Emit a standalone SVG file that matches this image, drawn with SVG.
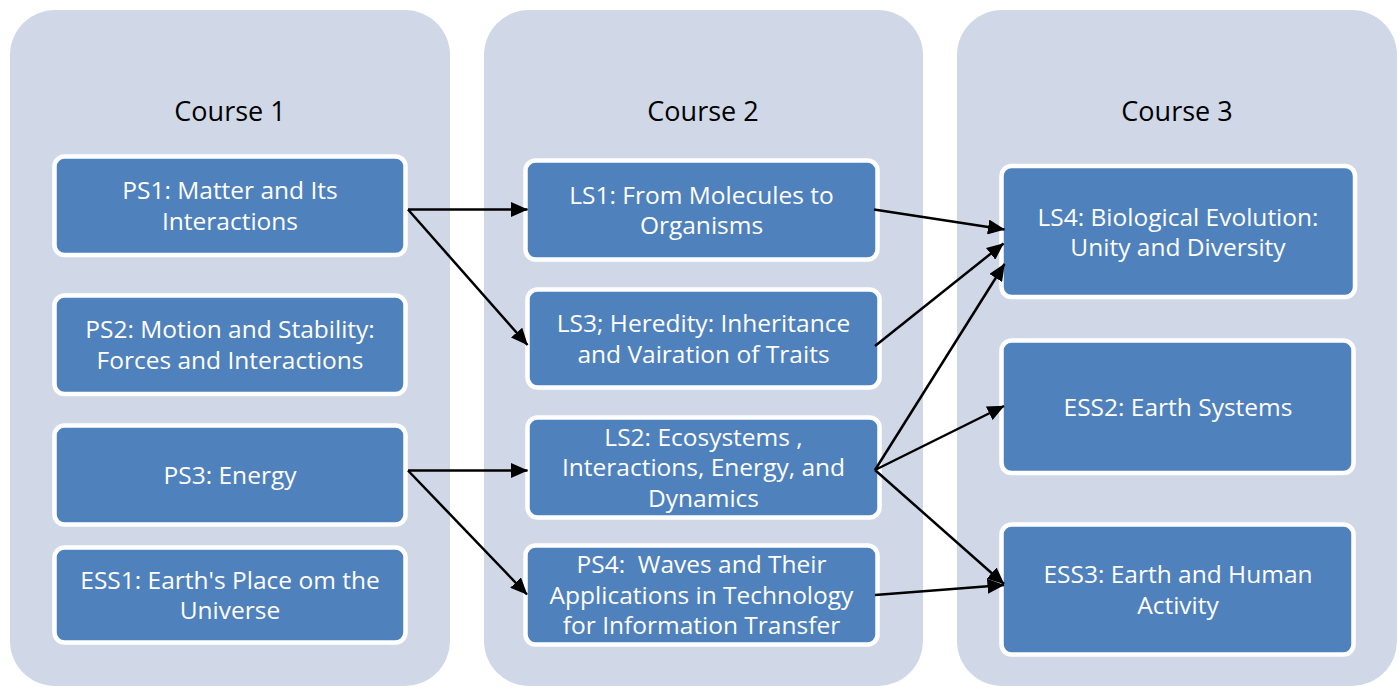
<svg xmlns="http://www.w3.org/2000/svg" width="1399" height="687" viewBox="0 0 1399 687">
<defs>
<style>
.panel{fill:#D0D8E8;}
.node{fill:#4F81BD;stroke:#FFFFFF;stroke-width:4.5;}
.title{font-family:"Open Sans","Liberation Sans",sans-serif;font-size:27px;fill:#000000;text-anchor:middle;}
.lbl{font-family:"Open Sans","Liberation Sans",sans-serif;font-size:24.5px;fill:#FFFFFF;text-anchor:middle;white-space:pre;}
.conn{stroke:#000000;stroke-width:2.5;fill:none;marker-end:url(#arr);}
</style>
<marker id="arr" markerUnits="userSpaceOnUse" markerWidth="17" markerHeight="15" viewBox="0 0 17 15" refX="16.5" refY="7.5" orient="auto">
<path d="M0,0 L17,7.5 L0,15 Z" fill="#000000"/>
</marker>
</defs>
<rect width="1399" height="687" fill="#FFFFFF"/>
<g id="course1">
<rect class="panel" x="10" y="10" width="440" height="676" rx="45"/>
<text class="title" x="230" y="121">Course 1</text>
</g>
<g id="course2">
<rect class="panel" x="484" y="10" width="439" height="676" rx="45"/>
<text class="title" x="703" y="121">Course 2</text>
</g>
<g id="course3">
<rect class="panel" x="957" y="10" width="440" height="676" rx="45"/>
<text class="title" x="1177" y="121">Course 3</text>
</g>
<g id="ps1">
<rect class="node" x="54.5" y="156.5" width="351" height="98.5" rx="10"/>
<text class="lbl" x="230" y="199.2">PS1: Matter and Its</text>
<text class="lbl" x="230" y="229.7">Interactions</text>
</g>
<g id="ps2">
<rect class="node" x="54.5" y="295.5" width="351" height="98.5" rx="10"/>
<text class="lbl" x="230" y="338.2">PS2: Motion and Stability:</text>
<text class="lbl" x="230" y="368.7">Forces and Interactions</text>
</g>
<g id="ps3">
<rect class="node" x="54.5" y="425.5" width="351" height="99" rx="10"/>
<text class="lbl" x="230" y="483.7">PS3: Energy</text>
</g>
<g id="ess1">
<rect class="node" x="54.5" y="547.5" width="351" height="95" rx="10"/>
<text class="lbl" x="230" y="588.5">ESS1: Earth's Place om the</text>
<text class="lbl" x="230" y="619">Universe</text>
</g>
<g id="ls1">
<rect class="node" x="525.5" y="160.5" width="352" height="99" rx="10"/>
<text class="lbl" x="701.5" y="203.5">LS1: From Molecules to</text>
<text class="lbl" x="701.5" y="234">Organisms</text>
</g>
<g id="ls3">
<rect class="node" x="527.5" y="289.5" width="352" height="98" rx="10"/>
<text class="lbl" x="703.5" y="332">LS3; Heredity: Inheritance</text>
<text class="lbl" x="703.5" y="362.5">and Vairation of Traits</text>
</g>
<g id="ls2">
<rect class="node" x="527.5" y="417.5" width="352" height="100" rx="10"/>
<text class="lbl" x="703.5" y="445.7">LS2: Ecosystems ,</text>
<text class="lbl" x="703.5" y="476.2">Interactions, Energy, and</text>
<text class="lbl" x="703.5" y="506.7">Dynamics</text>
</g>
<g id="ps4">
<rect class="node" x="525.5" y="545.5" width="352" height="99" rx="10"/>
<text class="lbl" x="701.5" y="573.2" xml:space="preserve">PS4:  Waves and Their</text>
<text class="lbl" x="701.5" y="603.7">Applications in Technology</text>
<text class="lbl" x="701.5" y="634.2">for Information Transfer</text>
</g>
<g id="ls4">
<rect class="node" x="1001.5" y="166" width="353.5" height="131" rx="10"/>
<text class="lbl" x="1178" y="225.5">LS4: Biological Evolution:</text>
<text class="lbl" x="1178" y="256">Unity and Diversity</text>
</g>
<g id="ess2">
<rect class="node" x="1001.5" y="340.5" width="352" height="132.5" rx="10"/>
<text class="lbl" x="1178" y="415.5">ESS2: Earth Systems</text>
</g>
<g id="ess3">
<rect class="node" x="1001.5" y="524.5" width="352" height="130" rx="10"/>
<text class="lbl" x="1178" y="583">ESS3: Earth and Human</text>
<text class="lbl" x="1178" y="613.5">Activity</text>
</g>
<g id="connectors">
<line class="conn" x1="408" y1="209.5" x2="527.5" y2="209.5"/>
<line class="conn" x1="408" y1="209.5" x2="527.5" y2="345"/>
<line class="conn" x1="408" y1="470.5" x2="527.5" y2="470.5"/>
<line class="conn" x1="408" y1="470.5" x2="527" y2="594.5"/>
<line class="conn" x1="874" y1="209.5" x2="1004.5" y2="229.5"/>
<line class="conn" x1="875" y1="346" x2="1003.5" y2="243.5"/>
<line class="conn" x1="875" y1="470" x2="1004.5" y2="264"/>
<line class="conn" x1="875" y1="470" x2="1004" y2="406"/>
<line class="conn" x1="875" y1="470" x2="1004" y2="584"/>
<line class="conn" x1="875" y1="595" x2="1004" y2="585"/>
</g>
</svg>
